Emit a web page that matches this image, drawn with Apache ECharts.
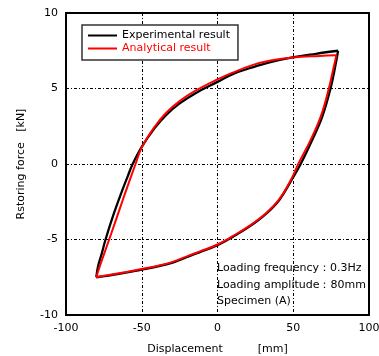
<!DOCTYPE html>
<html>
<head>
<meta charset="utf-8">
<script src="https://cdn.jsdelivr.net/npm/echarts@6/dist/echarts.min.js"></script>
<style>
  html, body { margin: 0; padding: 0; background: #fff; overflow: hidden; }
  #chart { width: 379px; height: 356px; }
</style>
</head>
<body>
<div id="chart"></div>
<script>
// Hysteresis loop: each loop split into two branches so the two corners stay sharp.
const xTicks = [-100, -50, 0, 50, 100];
const yTicks = [-10, -5, 0, 5, 10];

// Experimental result (black)
const expUpX = [-80, -78.9, -76.6, -73.9, -69.0, -63.6, -59.2, -56, -50, -41.6, -34, -25.2, -14.2, 0, 10, 23, 35, 49.5, 65, 79.6];
const expUpY = [-7.5, -6.8, -6.0, -5.0, -3.45, -1.94, -0.8, 0, 1.14, 2.36, 3.24, 4.0, 4.71, 5.44, 5.95, 6.4, 6.75, 7.06, 7.3, 7.5];
const expDnX = [79.6, 77.6, 74.6, 69.1, 62.5, 54.9, 49.5, 40.8, 32, 21, 10, 0, -12, -18.6, -29.6, -40, -50, -65, -80];
const expDnY = [7.5, 6.4, 5.0, 3.12, 1.59, 0, -0.95, -2.38, -3.3, -4.15, -4.83, -5.38, -5.85, -6.1, -6.53, -6.8, -6.99, -7.27, -7.5];

// Analytical result (red)
const anaUpX = [-80, -77.8, -71.5, -66, -61, -54.1, -50, -41.6, -34, -25.2, -14.2, 0, 10, 23, 35, 49.5, 67.5, 78.5];
const anaUpY = [-7.5, -6.8, -5.0, -3.4, -1.94, 0, 1.1, 2.45, 3.38, 4.15, 4.87, 5.6, 6.05, 6.55, 6.85, 7.06, 7.16, 7.2];
const anaDnX = [78.5, 76.2, 73.5, 68, 61, 53.3, 49, 40.8, 32, 21, 10, 0, -12, -18.6, -29.6, -40, -50, -65, -80];
const anaDnY = [7.2, 6.2, 5.0, 3.1, 1.5, 0, -0.95, -2.33, -3.26, -4.1, -4.78, -5.33, -5.8, -6.05, -6.48, -6.75, -6.95, -7.24, -7.5];

const notes = ["Loading frequency\uff1a0.3Hz", "Loading amplitude\uff1a80mm", "Specimen (A)"];

const FONT = "DejaVu Sans";
const zip = (xs, ys) => xs.map((x, i) => [x, ys[i]]);

function branch(name, color, width, xs, ys) {
  return {
    name, type: "line", data: zip(xs, ys), smooth: 0.4, symbol: "none",
    lineStyle: { color, width }, itemStyle: { color }, animation: false,
  };
}

const chart = echarts.init(document.getElementById("chart"), null, { renderer: "canvas" });
chart.setOption({
  backgroundColor: "#fff",
  animation: false,
  grid: {
    left: 66, right: 10, top: 13, bottom: 41, containLabel: false, outerBoundsMode: "none",
    show: true, borderColor: "#000", borderWidth: 2,
  },
  legend: {
    left: 82, top: 25, orient: "vertical",
    padding: [5, 8, 6, 6], itemGap: 2, itemWidth: 29, itemHeight: 2,
    borderColor: "#333", borderWidth: 1.5, backgroundColor: "#fff",
    textStyle: { fontFamily: FONT, fontSize: 11 },
    data: [
      { name: "Experimental result", icon: "rect", textStyle: { color: "#000" } },
      { name: "Analytical result", icon: "rect", textStyle: { color: "#ff0000" } },
    ],
  },
  xAxis: {
    type: "value", min: xTicks[0], max: xTicks[xTicks.length - 1], interval: 50,
    name: "Displacement          [mm]", nameLocation: "middle", nameGap: 29,
    nameTextStyle: { fontFamily: FONT, fontSize: 11, color: "#000" },
    axisLine: { show: false }, axisTick: { show: false },
    axisLabel: { margin: 8, fontFamily: FONT, fontSize: 11, color: "#000" },
    splitLine: { lineStyle: { color: "#000", width: 1, type: [3, 2, 1, 2] } },
  },
  yAxis: {
    type: "value", min: yTicks[0], max: yTicks[yTicks.length - 1], interval: 5,
    name: "Rstoring force   [kN]", nameLocation: "middle", nameGap: 39,
    nameTextStyle: { fontFamily: FONT, fontSize: 11, color: "#000" },
    axisLine: { show: false }, axisTick: { show: false },
    axisLabel: { margin: 8, fontFamily: FONT, fontSize: 11, color: "#000" },
    splitLine: { lineStyle: { color: "#000", width: 1, type: [3, 2, 1, 2] } },
  },
  graphic: notes.map((t, i) => ({
    type: "text", left: 217, top: 263 + i * 16.5, z: 100,
    style: { text: t, fontFamily: FONT, fontSize: 11, fill: "#000" },
  })),
  series: [
    branch("Experimental result", "#000", 2.3, expUpX, expUpY),
    branch("Experimental result", "#000", 2.3, expDnX, expDnY),
    branch("Analytical result", "#ff0000", 2, anaUpX, anaUpY),
    branch("Analytical result", "#ff0000", 2, anaDnX, anaDnY),
  ],
});
</script>
</body>
</html>
